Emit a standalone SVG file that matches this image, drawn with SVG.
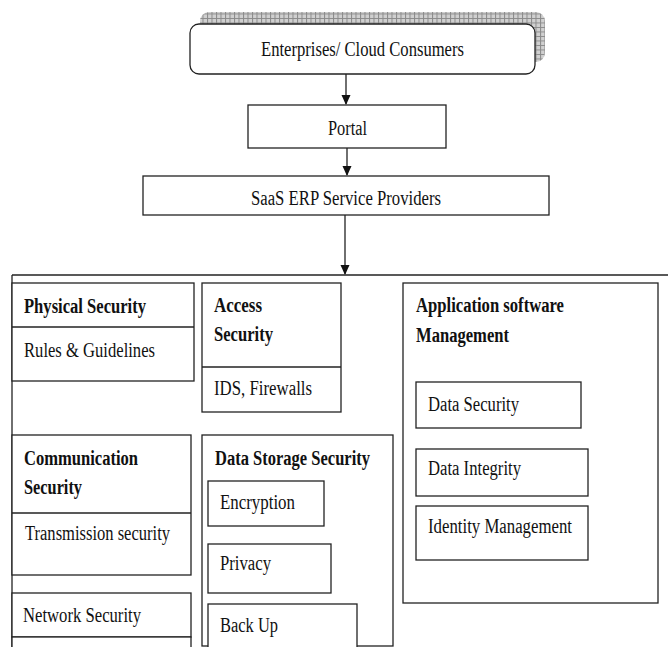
<svg xmlns="http://www.w3.org/2000/svg" width="668" height="647" viewBox="0 0 668 647">
<style>
.b{fill:#fff;stroke:#222;stroke-width:1.3}
.l{fill:none;stroke:#222;stroke-width:1.3}
.t{font-family:'Liberation Serif','Times New Roman',serif;font-size:20.5px;fill:#111}
.bd{font-weight:bold}
</style>
<defs>
<pattern id="grid" width="4.5" height="4.5" patternUnits="userSpaceOnUse">
<rect width="4.5" height="4.5" fill="#d0d0d0"/>
<path d="M0 0.5H4.5M0.5 0V4.5" stroke="#8a8a8a" stroke-width="1"/>
</pattern>
<marker id="ah" markerWidth="10" markerHeight="10" refX="9" refY="5" orient="auto" markerUnits="userSpaceOnUse">
<path d="M0 0.5L10 5L0 9.5Z" fill="#111"/>
</marker>
</defs>
<g id="connectors">
<line class="l" x1="346" y1="74" x2="346" y2="104" marker-end="url(#ah)"/>
<line class="l" x1="347" y1="148" x2="347" y2="175" marker-end="url(#ah)"/>
<line class="l" x1="345" y1="215" x2="345" y2="274" marker-end="url(#ah)"/>
<line class="l" x1="12" y1="275" x2="668" y2="275"/>
<line class="l" x1="12" y1="275" x2="12" y2="647"/>
</g>
<g class="t">
<g id="consumers">
<rect x="200" y="12" width="345" height="50" rx="9" fill="url(#grid)"/>
<rect class="b" x="190" y="24" width="345" height="50" rx="9"/>
<text x="261" y="56" textLength="203" lengthAdjust="spacingAndGlyphs">Enterprises/ Cloud Consumers</text>
</g>
<g id="portal">
<rect class="b" x="248" y="105" width="198" height="43"/>
<text x="328" y="135" textLength="39" lengthAdjust="spacingAndGlyphs">Portal</text>
</g>
<g id="saas">
<rect class="b" x="143" y="176" width="406" height="39"/>
<text x="251" y="205" textLength="190" lengthAdjust="spacingAndGlyphs">SaaS ERP Service Providers</text>
</g>
<g id="physical">
<rect class="b" x="12" y="283" width="182" height="98"/>
<line class="l" x1="12" y1="327" x2="194" y2="327"/>
<text class="bd" x="24" y="313" textLength="122" lengthAdjust="spacingAndGlyphs">Physical Security</text>
<text x="24" y="357" textLength="131" lengthAdjust="spacingAndGlyphs">Rules &amp; Guidelines</text>
</g>
<g id="access">
<rect class="b" x="202" y="283" width="139" height="129"/>
<line class="l" x1="202" y1="367" x2="341" y2="367"/>
<text class="bd" x="214" y="312" textLength="48" lengthAdjust="spacingAndGlyphs">Access</text>
<text class="bd" x="214" y="341" textLength="59" lengthAdjust="spacingAndGlyphs">Security</text>
<text x="214" y="395" textLength="98" lengthAdjust="spacingAndGlyphs">IDS, Firewalls</text>
</g>
<g id="application">
<rect class="b" x="403" y="283" width="255" height="320"/>
<text class="bd" x="416" y="312" textLength="148" lengthAdjust="spacingAndGlyphs">Application software</text>
<text class="bd" x="416" y="342" textLength="93" lengthAdjust="spacingAndGlyphs">Management</text>
</g>
<g id="data-security">
<rect class="b" x="416" y="382" width="165" height="46"/>
<text x="428" y="411" textLength="91" lengthAdjust="spacingAndGlyphs">Data Security</text>
</g>
<g id="data-integrity">
<rect class="b" x="416" y="449" width="172" height="47"/>
<text x="428" y="475" textLength="93" lengthAdjust="spacingAndGlyphs">Data Integrity</text>
</g>
<g id="identity">
<rect class="b" x="416" y="506" width="172" height="54"/>
<text x="428" y="533" textLength="144" lengthAdjust="spacingAndGlyphs">Identity Management</text>
</g>
<g id="communication">
<rect class="b" x="12" y="435" width="179" height="140"/>
<line class="l" x1="12" y1="513" x2="191" y2="513"/>
<text class="bd" x="24" y="465" textLength="114" lengthAdjust="spacingAndGlyphs">Communication</text>
<text class="bd" x="24" y="494" textLength="58" lengthAdjust="spacingAndGlyphs">Security</text>
<text x="25" y="540" textLength="145" lengthAdjust="spacingAndGlyphs">Transmission security</text>
</g>
<g id="network">
<rect class="b" x="12" y="593" width="179" height="44"/>
<text x="23" y="622" textLength="118" lengthAdjust="spacingAndGlyphs">Network Security</text>
</g>
<g id="bottom-box">
<rect class="b" x="12" y="637" width="179" height="30"/>
</g>
<g id="data-storage">
<rect class="b" x="202" y="435" width="191" height="211"/>
<text class="bd" x="215" y="465" textLength="155" lengthAdjust="spacingAndGlyphs">Data Storage Security</text>
</g>
<g id="encryption">
<rect class="b" x="208" y="481" width="116" height="45"/>
<text x="220" y="509" textLength="75" lengthAdjust="spacingAndGlyphs">Encryption</text>
</g>
<g id="privacy">
<rect class="b" x="208" y="544" width="123" height="49"/>
<text x="220" y="570" textLength="51" lengthAdjust="spacingAndGlyphs">Privacy</text>
</g>
<g id="backup">
<rect class="b" x="208" y="604" width="149" height="60"/>
<text x="220" y="632" textLength="58" lengthAdjust="spacingAndGlyphs">Back Up</text>
</g>
</g>
</svg>
